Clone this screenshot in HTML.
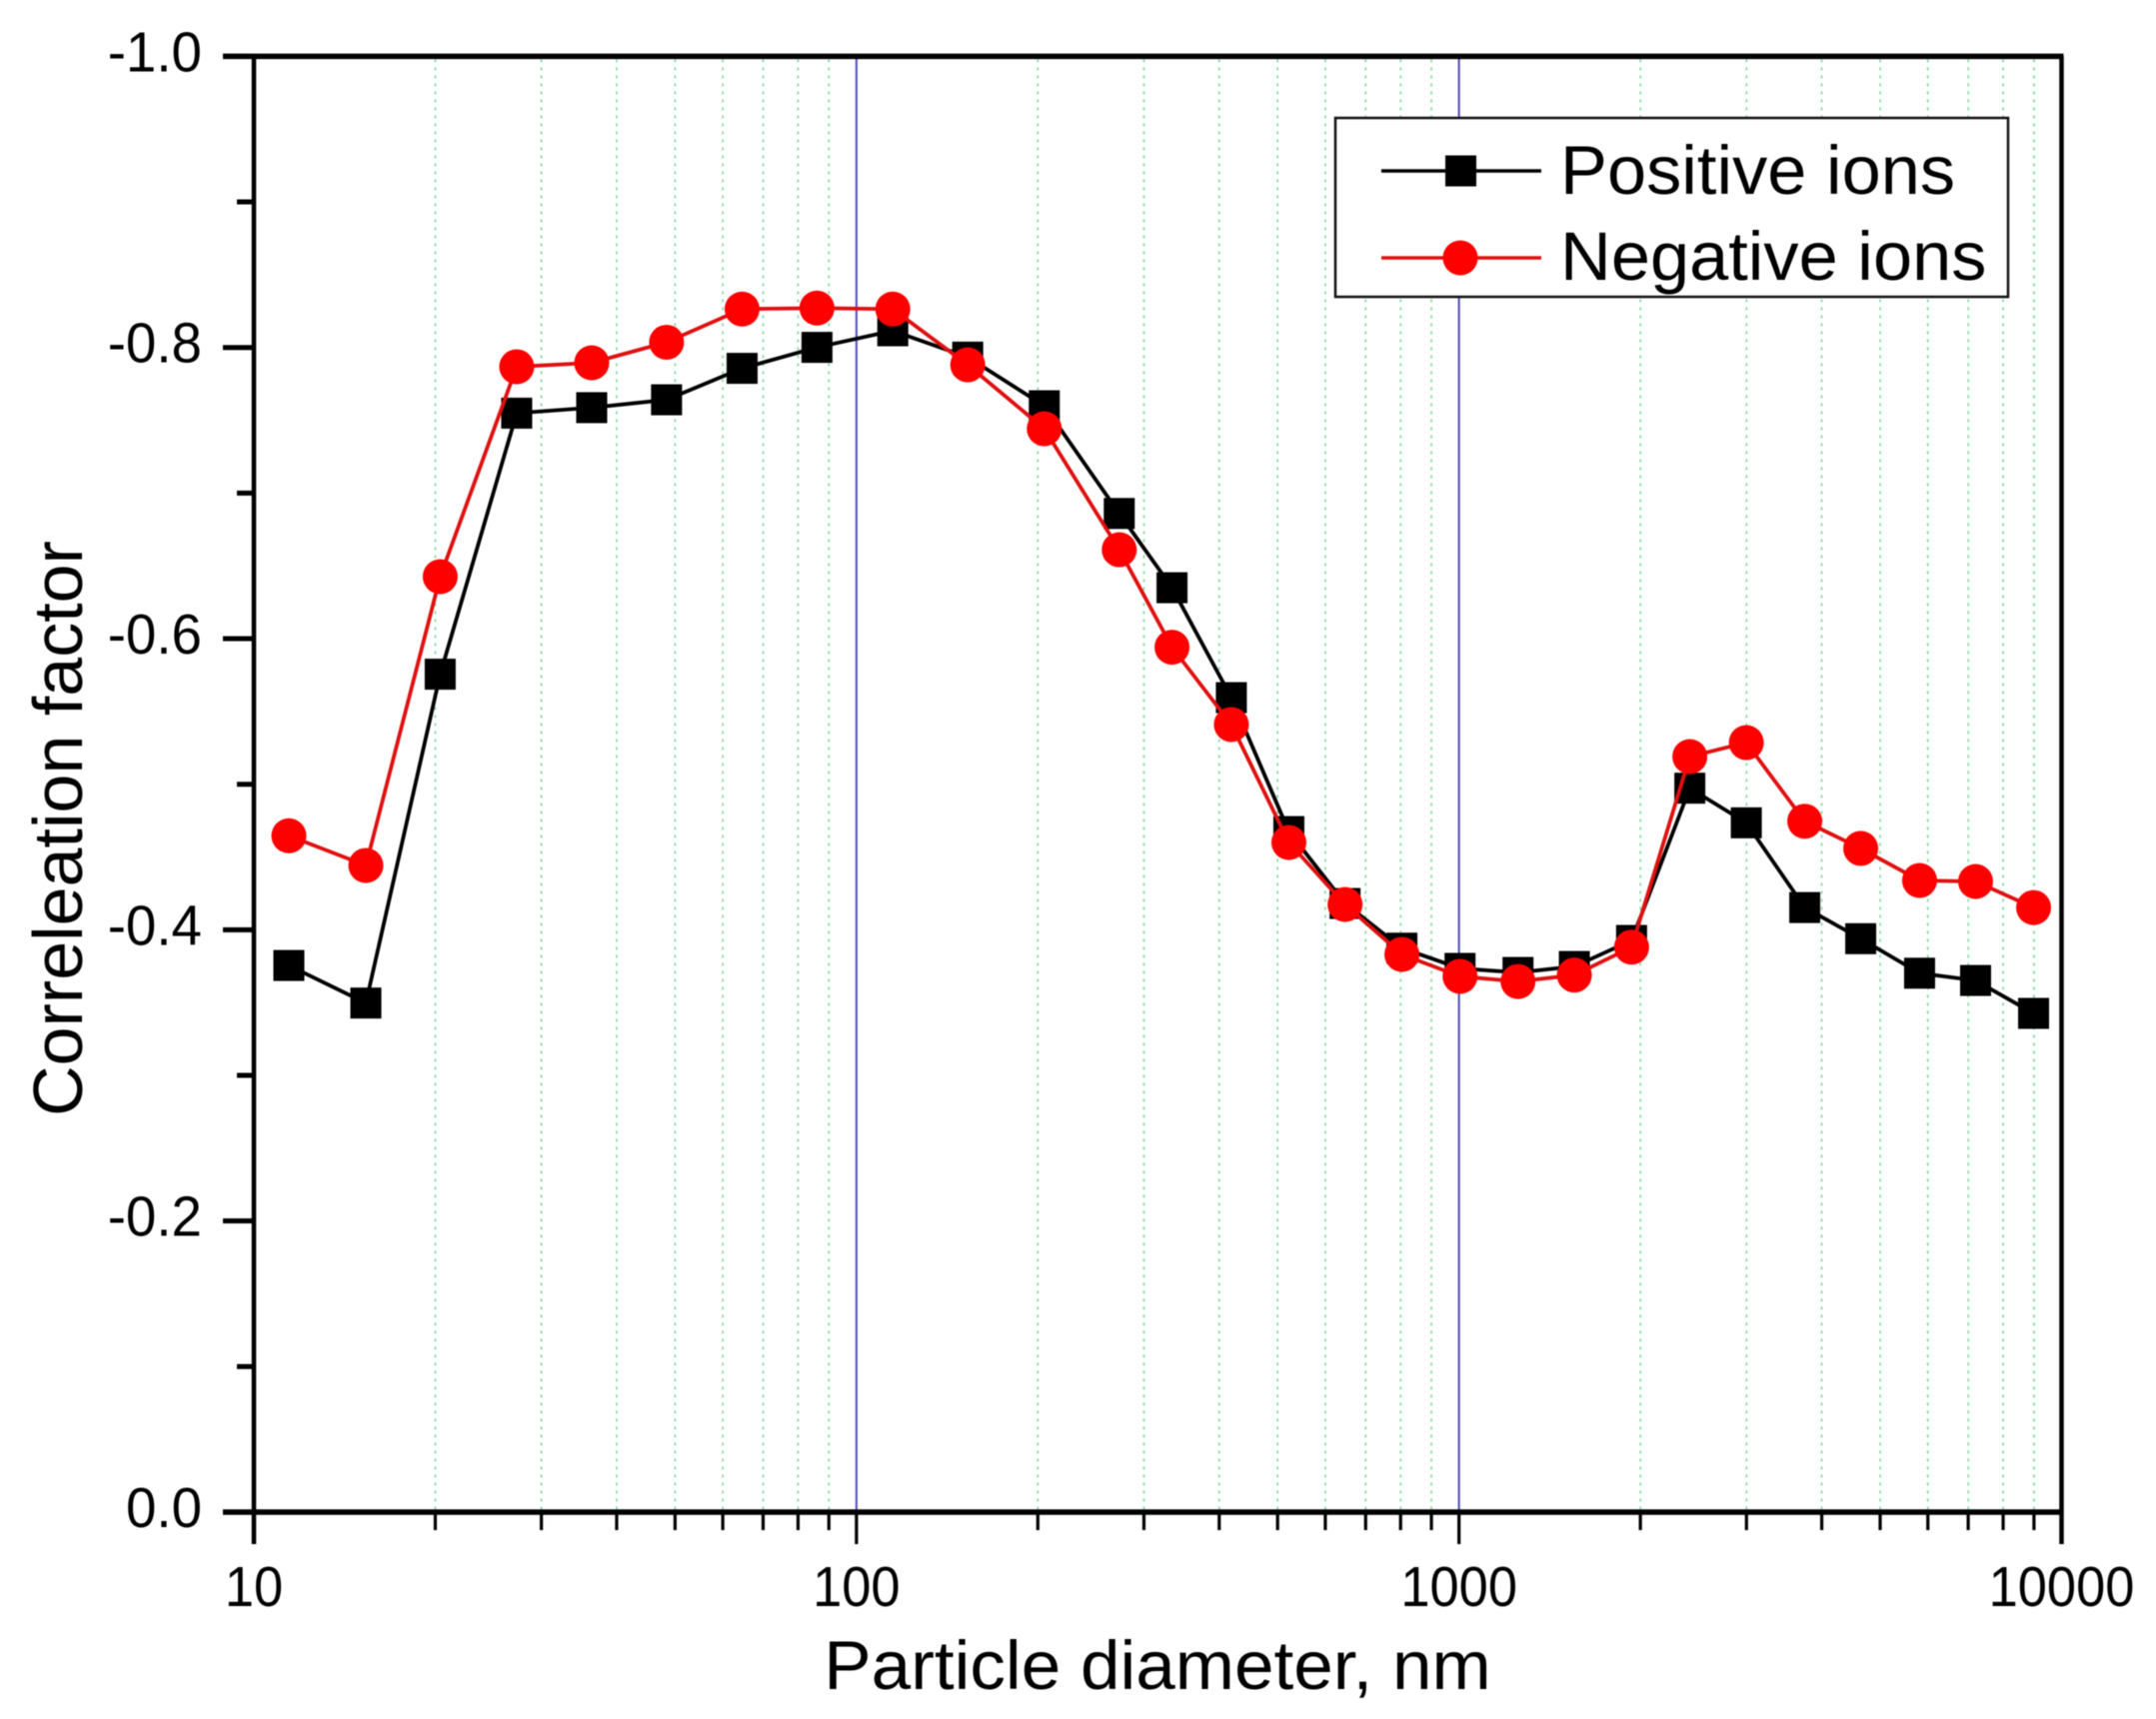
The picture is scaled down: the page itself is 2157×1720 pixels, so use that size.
<!DOCTYPE html>
<html lang="en">
<head>
<meta charset="utf-8">
<title>Correlation factor vs particle diameter</title>
<style>
  html, body { margin: 0; padding: 0; background: #fff; }
  body { width: 2157px; height: 1720px; overflow: hidden; }
  svg { display: block; filter: blur(0.6px); }
  text { font-family: "Liberation Sans", Arial, sans-serif; fill: #000; }
</style>
</head>
<body>
<svg id="chart" xmlns="http://www.w3.org/2000/svg" width="2157" height="1720" viewBox="0 0 2157 1720">
  <rect x="0" y="0" width="2157" height="1720" fill="#ffffff"/>
  <g id="grid"></g>
  <g id="axes"></g>
  <g id="series"></g>
  <g id="legend">
    <rect x="1336" y="118" width="673" height="179" fill="#ffffff" stroke="#111111" stroke-width="2.5"/>
    <g>
      <line x1="1382" y1="171" x2="1542" y2="171" stroke="#000000" stroke-width="3.6"/>
      <rect x="1446" y="155.5" width="31" height="31" fill="#000000"/>
      <text transform="translate(1561,194) scale(1.02,1)" font-size="69">Positive ions</text>
    </g>
    <g>
      <line x1="1382" y1="258" x2="1542" y2="258" stroke="#e01010" stroke-width="3.6"/>
      <circle cx="1461" cy="258" r="17.5" fill="#ff0000"/>
      <text transform="translate(1561,280) scale(1.02,1)" font-size="69">Negative ions</text>
    </g>
  </g>
  <text transform="translate(1158,1690) scale(1.03,1)" font-size="69" text-anchor="middle">Particle diameter, nm</text>
  <text transform="translate(82,829) rotate(-90)" font-size="70" text-anchor="middle">Correleation factor</text>
</svg>
<script>
// Chart data
const diameters = [11.43, 15.34, 20.38, 27.3, 36.36, 48.4, 64.6, 86.0, 114.9, 153, 205, 273, 334, 419, 522, 647, 804, 1004, 1253, 1554, 1934, 2416, 2998, 3748, 4642, 5813, 7200, 8987];
const positiveIons = [-0.3755, -0.3497, -0.5756, -0.7549, -0.7587, -0.7641, -0.7857, -0.8001, -0.8115, -0.7934, -0.76, -0.686, -0.635, -0.5595, -0.4675, -0.4181, -0.3874, -0.3735, -0.3707, -0.3748, -0.3927, -0.4973, -0.4735, -0.4153, -0.3939, -0.3702, -0.3652, -0.3426];
const negativeIons = [-0.4646, -0.4442, -0.6426, -0.7868, -0.7895, -0.8036, -0.8264, -0.8271, -0.8264, -0.7881, -0.7442, -0.6611, -0.5941, -0.541, -0.46, -0.4174, -0.3831, -0.368, -0.3645, -0.3689, -0.3881, -0.519, -0.5286, -0.4746, -0.4559, -0.4339, -0.4332, -0.4153];
const xMajorTicks = [10, 100, 1000, 10000];
const xMinorTicks = [20, 30, 40, 50, 60, 70, 80, 90, 200, 300, 400, 500, 600, 700, 800, 900, 2000, 3000, 4000, 5000, 6000, 7000, 8000, 9000];
const xBlueGrid = [100, 1000];
const yMajorTicks = [-1.0, -0.8, -0.6, -0.4, -0.2, 0.0];
const yMajorLabels = ['-1.0', '-0.8', '-0.6', '-0.4', '-0.2', '0.0'];
const yMinorTicks = [-0.9, -0.7, -0.5, -0.3, -0.1];

const NS = 'http://www.w3.org/2000/svg';
const plot = { left: 254, right: 2062.5, top: 56.4, bottom: 1513 };
const xMin = 10, xMax = 10000, yMin = -1, yMax = 0;

function xScale(v) {
  return plot.left + (Math.log10(v) - Math.log10(xMin)) / (Math.log10(xMax) - Math.log10(xMin)) * (plot.right - plot.left);
}
function yScale(v) {
  return plot.top + (v - yMin) / (yMax - yMin) * (plot.bottom - plot.top);
}
function make(tag, parent, attrs) {
  const el = document.createElementNS(NS, tag);
  for (const k in attrs) el.setAttribute(k, attrs[k]);
  parent.appendChild(el);
  return el;
}

const gridG = document.getElementById('grid');
const axesG = document.getElementById('axes');
const seriesG = document.getElementById('series');

xMinorTicks.forEach(function (v) {
  const x = xScale(v);
  const g = make('line', gridG, { x1: x, y1: plot.top + 3, x2: x, y2: plot.bottom, stroke: '#7fd89a', 'stroke-width': 1.6, 'stroke-dasharray': '3 5' });
  
  
  const t = make('line', axesG, { x1: x, y1: plot.bottom, x2: x, y2: 1531, stroke: '#000', 'stroke-width': 3.2 });
  
  
});
xBlueGrid.forEach(function (v) {
  const x = xScale(v);
  const g = make('line', gridG, { x1: x, y1: plot.top, x2: x, y2: plot.bottom, stroke: '#4a4ab8', 'stroke-width': 2 });
  
  
});

const frame = make('path', axesG, {
  d: 'M' + (plot.left) + ' 1545V' + plot.top + 'M' + plot.right + ' ' + plot.top + 'V1545',
  fill: 'none', stroke: '#000', 'stroke-width': 4.5
});


const topLine = make('line', axesG, { x1: 223, y1: plot.top, x2: plot.right + 2, y2: plot.top, stroke: '#000', 'stroke-width': 5.5 });


const bottomLine = make('line', axesG, { x1: 223, y1: plot.bottom, x2: plot.right + 2, y2: plot.bottom, stroke: '#000', 'stroke-width': 5.5 });



xMajorTicks.forEach(function (v) {
  const x = xScale(v);
  const t = make('line', axesG, { x1: x, y1: plot.bottom, x2: x, y2: 1545, stroke: '#000', 'stroke-width': 3.2 });
  
  
  const l = make('text', axesG, { transform: 'translate(' + x + ',1607) scale(0.92,1)', 'font-size': 57, 'text-anchor': 'middle' });
  l.textContent = String(v);
  
  
});
yMajorTicks.forEach(function (v, i) {
  const y = yScale(v);
  const t = make('line', axesG, { x1: 223, y1: y, x2: plot.left, y2: y, stroke: '#000', 'stroke-width': 5 });
  
  
  const l = make('text', axesG, { transform: 'translate(202,' + (y + 15) + ') scale(0.96,1)', 'font-size': 57, 'text-anchor': 'end' });
  l.textContent = yMajorLabels[i];
  
  
});
yMinorTicks.forEach(function (v) {
  const y = yScale(v);
  const t = make('line', axesG, { x1: 237, y1: y, x2: plot.left, y2: y, stroke: '#000', 'stroke-width': 5 });
  
  
});

function linePoints(values) {
  return values.map(function (v, i) { return xScale(diameters[i]) + ',' + yScale(v); }).join(' ');
}

const positiveG = make('g', seriesG, {});


const positiveLine = make('polyline', positiveG, { points: linePoints(positiveIons), fill: 'none', stroke: '#000', 'stroke-width': 3.8 });


positiveIons.forEach(function (v, i) {
  const s = 31;
  const m = make('rect', positiveG, { x: xScale(diameters[i]) - s / 2, y: yScale(v) - s / 2, width: s, height: s, fill: '#000' });
  
  
});

const negativeG = make('g', seriesG, {});


const negativeLine = make('polyline', negativeG, { points: linePoints(negativeIons), fill: 'none', stroke: '#e01010', 'stroke-width': 3.8 });


negativeIons.forEach(function (v, i) {
  const m = make('circle', negativeG, { cx: xScale(diameters[i]), cy: yScale(v), r: 17.5, fill: '#ff0000' });
  
  
});
</script>
</body>
</html>
